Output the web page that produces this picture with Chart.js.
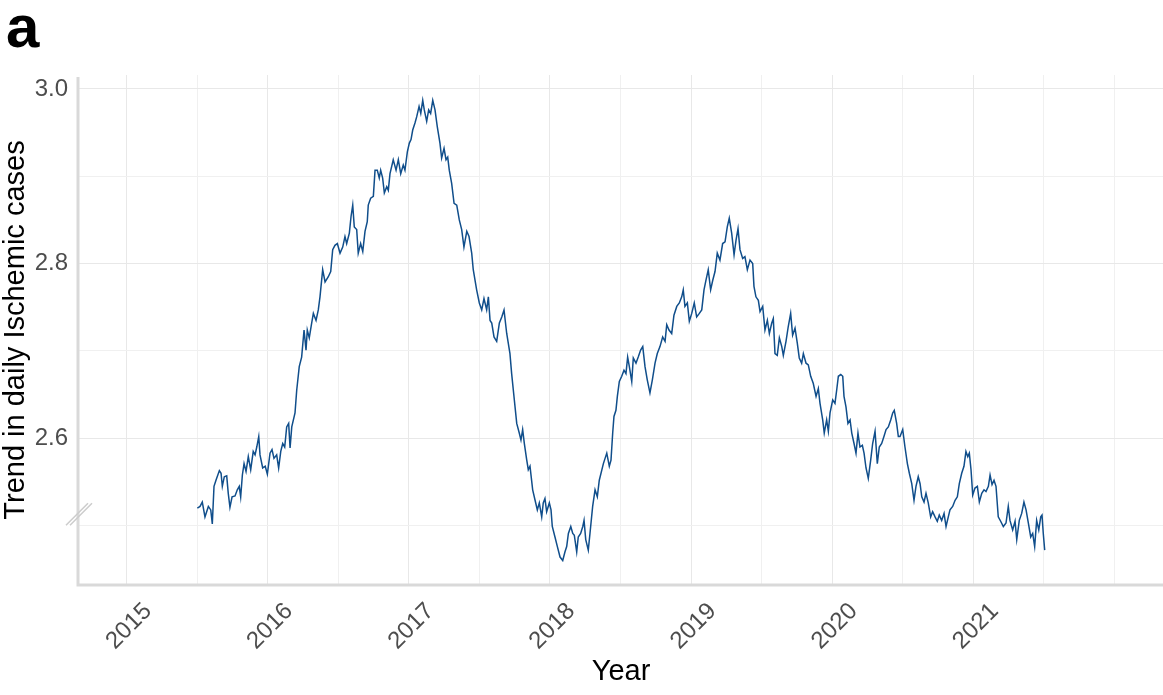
<!DOCTYPE html>
<html lang="en">
<head>
    <meta charset="utf-8" />
    <title>Trend in daily Ischemic cases</title>
    <script src="https://cdn.jsdelivr.net/npm/chart.js"></script>
    <style>
        html, body { margin: 0; padding: 0; background: #fff; }
        #wrap { width: 1163px; height: 695px; }
    </style>
</head>
<body>
    <div id="wrap"><canvas id="trendChart" width="1163" height="695"></canvas></div>

    <script>
        // decimal year of each reading
        const years = [
            2015.502, 2015.521, 2015.537, 2015.556, 2015.580, 2015.597, 2015.608, 2015.620, 2015.634, 2015.658,
            2015.670, 2015.679, 2015.693, 2015.710, 2015.721, 2015.733, 2015.748, 2015.769, 2015.785, 2015.799,
            2015.809, 2015.821, 2015.833, 2015.847, 2015.863, 2015.880, 2015.898, 2015.911, 2015.923, 2015.937,
            2015.946, 2015.965, 2015.983, 2015.998, 2016.017, 2016.031, 2016.045, 2016.064, 2016.078, 2016.093,
            2016.107, 2016.121, 2016.135, 2016.149, 2016.159, 2016.171, 2016.194, 2016.206, 2016.224, 2016.241,
            2016.258, 2016.272, 2016.281, 2016.295, 2016.312, 2016.324, 2016.343, 2016.359, 2016.371, 2016.390,
            2016.407, 2016.430, 2016.447, 2016.461, 2016.477, 2016.494, 2016.513, 2016.532, 2016.548, 2016.560,
            2016.579, 2016.591, 2016.603, 2016.614, 2016.631, 2016.642, 2016.659, 2016.674, 2016.690, 2016.706,
            2016.713, 2016.730, 2016.749, 2016.761, 2016.777, 2016.791, 2016.801, 2016.815, 2016.827, 2016.844,
            2016.855, 2016.867, 2016.890, 2016.910, 2016.926, 2016.943, 2016.961, 2016.973, 2016.990, 2017.004,
            2017.016, 2017.028, 2017.044, 2017.056, 2017.073, 2017.085, 2017.099, 2017.110, 2017.127, 2017.141,
            2017.155, 2017.170, 2017.186, 2017.202, 2017.221, 2017.233, 2017.250, 2017.264, 2017.276, 2017.287,
            2017.304, 2017.321, 2017.340, 2017.358, 2017.375, 2017.391, 2017.411, 2017.427, 2017.446, 2017.457,
            2017.481, 2017.500, 2017.517, 2017.533, 2017.552, 2017.564, 2017.576, 2017.588, 2017.604, 2017.623,
            2017.642, 2017.659, 2017.675, 2017.694, 2017.717, 2017.729, 2017.741, 2017.765, 2017.783, 2017.795,
            2017.807, 2017.819, 2017.836, 2017.847, 2017.859, 2017.878, 2017.895, 2017.911, 2017.925, 2017.942,
            2017.953, 2017.965, 2017.977, 2017.996, 2018.008, 2018.017, 2018.036, 2018.053, 2018.072, 2018.091,
            2018.107, 2018.119, 2018.131, 2018.148, 2018.162, 2018.173, 2018.190, 2018.201, 2018.218, 2018.233,
            2018.242, 2018.254, 2018.272, 2018.284, 2018.303, 2018.320, 2018.336, 2018.350, 2018.379, 2018.403,
            2018.421, 2018.433, 2018.445, 2018.454, 2018.468, 2018.478, 2018.492, 2018.509, 2018.525, 2018.539,
            2018.551, 2018.563, 2018.580, 2018.591, 2018.610, 2018.626, 2018.643, 2018.658, 2018.674, 2018.690,
            2018.709, 2018.726, 2018.745, 2018.761, 2018.780, 2018.799, 2018.816, 2018.828, 2018.844, 2018.863,
            2018.879, 2018.899, 2018.917, 2018.934, 2018.945, 2018.957, 2018.974, 2018.988, 2019.005, 2019.023,
            2019.040, 2019.059, 2019.076, 2019.092, 2019.106, 2019.122, 2019.139, 2019.154, 2019.170, 2019.186,
            2019.205, 2019.224, 2019.241, 2019.257, 2019.271, 2019.288, 2019.305, 2019.319, 2019.333, 2019.347,
            2019.366, 2019.382, 2019.399, 2019.418, 2019.437, 2019.446, 2019.460, 2019.477, 2019.489, 2019.508,
            2019.524, 2019.541, 2019.555, 2019.572, 2019.583, 2019.595, 2019.611, 2019.626, 2019.643, 2019.654,
            2019.673, 2019.689, 2019.706, 2019.720, 2019.737, 2019.753, 2019.767, 2019.784, 2019.796, 2019.815,
            2019.831, 2019.848, 2019.866, 2019.886, 2019.902, 2019.914, 2019.933, 2019.944, 2019.961, 2019.973,
            2019.985, 2020.004, 2020.020, 2020.032, 2020.044, 2020.061, 2020.075, 2020.084, 2020.098, 2020.112,
            2020.127, 2020.139, 2020.155, 2020.169, 2020.183, 2020.197, 2020.214, 2020.226, 2020.240, 2020.256,
            2020.273, 2020.287, 2020.304, 2020.320, 2020.334, 2020.351, 2020.367, 2020.382, 2020.398, 2020.415,
            2020.429, 2020.440, 2020.457, 2020.469, 2020.481, 2020.500, 2020.516, 2020.533, 2020.547, 2020.564,
            2020.580, 2020.594, 2020.610, 2020.623, 2020.635, 2020.651, 2020.665, 2020.681, 2020.698, 2020.712,
            2020.729, 2020.745, 2020.759, 2020.776, 2020.793, 2020.807, 2020.823, 2020.835, 2020.854, 2020.871,
            2020.887, 2020.901, 2020.918, 2020.934, 2020.948, 2020.961, 2020.972, 2020.984, 2020.996, 2021.012,
            2021.029, 2021.043, 2021.060, 2021.076, 2021.090, 2021.107, 2021.119, 2021.133, 2021.147, 2021.161,
            2021.177, 2021.194, 2021.213, 2021.232, 2021.248, 2021.260, 2021.279, 2021.296, 2021.308, 2021.326,
            2021.343, 2021.359, 2021.374, 2021.390, 2021.407, 2021.421, 2021.435, 2021.449, 2021.464, 2021.478,
            2021.487, 2021.496, 2021.506
        ];

        // trend in daily ischemic cases
        const trend = [
            2.520, 2.522, 2.527, 2.510, 2.522, 2.518, 2.502, 2.545, 2.552, 2.563,
            2.560, 2.545, 2.556, 2.557, 2.537, 2.521, 2.533, 2.534, 2.541, 2.545,
            2.533, 2.558, 2.571, 2.562, 2.579, 2.564, 2.585, 2.581, 2.590, 2.602,
            2.581, 2.566, 2.568, 2.559, 2.583, 2.587, 2.577, 2.581, 2.566, 2.585,
            2.594, 2.590, 2.613, 2.617, 2.589, 2.613, 2.629, 2.655, 2.682, 2.693,
            2.724, 2.701, 2.724, 2.715, 2.732, 2.743, 2.735, 2.747, 2.762, 2.793,
            2.779, 2.785, 2.791, 2.816, 2.821, 2.823, 2.812, 2.819, 2.831, 2.823,
            2.835, 2.854, 2.867, 2.842, 2.839, 2.812, 2.823, 2.814, 2.837, 2.848,
            2.867, 2.875, 2.877, 2.907, 2.907, 2.898, 2.907, 2.898, 2.881, 2.888,
            2.884, 2.903, 2.919, 2.907, 2.919, 2.903, 2.913, 2.907, 2.928, 2.938,
            2.942, 2.953, 2.961, 2.968, 2.980, 2.972, 2.987, 2.976, 2.963, 2.976,
            2.972, 2.987, 2.976, 2.957, 2.938, 2.921, 2.932, 2.919, 2.922, 2.907,
            2.892, 2.869, 2.867, 2.850, 2.839, 2.819, 2.837, 2.831, 2.812, 2.793,
            2.770, 2.755, 2.747, 2.760, 2.747, 2.762, 2.735, 2.732, 2.716, 2.711,
            2.732, 2.739, 2.747, 2.720, 2.697, 2.674, 2.655, 2.617, 2.606, 2.598,
            2.610, 2.594, 2.575, 2.564, 2.568, 2.541, 2.529, 2.518, 2.526, 2.510,
            2.526, 2.531, 2.516, 2.526, 2.518, 2.499, 2.487, 2.476, 2.464, 2.460,
            2.470, 2.476, 2.491, 2.499, 2.491, 2.489, 2.470, 2.487, 2.491, 2.499,
            2.506, 2.484, 2.472, 2.491, 2.522, 2.541, 2.533, 2.552, 2.571, 2.583,
            2.568, 2.575, 2.606, 2.625, 2.632, 2.648, 2.665, 2.671, 2.678, 2.674,
            2.693, 2.682, 2.665, 2.692, 2.686, 2.693, 2.701, 2.705, 2.682, 2.667,
            2.652, 2.667, 2.686, 2.697, 2.705, 2.716, 2.711, 2.730, 2.724, 2.720,
            2.741, 2.751, 2.755, 2.762, 2.770, 2.751, 2.755, 2.734, 2.743, 2.755,
            2.739, 2.743, 2.747, 2.770, 2.781, 2.793, 2.770, 2.781, 2.791, 2.812,
            2.804, 2.823, 2.825, 2.842, 2.852, 2.835, 2.810, 2.827, 2.840, 2.816,
            2.806, 2.808, 2.793, 2.804, 2.800, 2.774, 2.762, 2.758, 2.745, 2.751,
            2.724, 2.735, 2.720, 2.732, 2.737, 2.697, 2.695, 2.715, 2.705, 2.695,
            2.711, 2.728, 2.743, 2.718, 2.726, 2.709, 2.692, 2.686, 2.697, 2.686,
            2.684, 2.671, 2.663, 2.648, 2.657, 2.640, 2.621, 2.606, 2.621, 2.608,
            2.629, 2.644, 2.640, 2.655, 2.671, 2.673, 2.671, 2.648, 2.636, 2.617,
            2.621, 2.606, 2.594, 2.583, 2.606, 2.590, 2.592, 2.583, 2.566, 2.554,
            2.575, 2.594, 2.608, 2.571, 2.590, 2.594, 2.602, 2.610, 2.613, 2.621,
            2.629, 2.632, 2.617, 2.602, 2.602, 2.610, 2.590, 2.571, 2.560, 2.548,
            2.529, 2.545, 2.556, 2.548, 2.533, 2.527, 2.537, 2.526, 2.510, 2.516,
            2.510, 2.505, 2.512, 2.506, 2.514, 2.499, 2.510, 2.518, 2.522, 2.529,
            2.533, 2.548, 2.560, 2.568, 2.585, 2.579, 2.583, 2.564, 2.535, 2.543,
            2.545, 2.527, 2.537, 2.541, 2.539, 2.545, 2.558, 2.547, 2.552, 2.545,
            2.510, 2.505, 2.499, 2.503, 2.522, 2.506, 2.495, 2.505, 2.484, 2.506,
            2.514, 2.527, 2.518, 2.503, 2.487, 2.491, 2.476, 2.506, 2.495, 2.510,
            2.512, 2.491, 2.472
        ];

        const yearLabels = [2015, 2016, 2017, 2018, 2019, 2020, 2021];
        const xGrid = [2015, 2015.5, 2016, 2016.5, 2017, 2017.5, 2018, 2018.5, 2019, 2019.5,
                       2020, 2020.5, 2021, 2021.5, 2022];
        const yLabels = [2.6, 2.8, 3.0];
        const yGrid = [2.5, 2.6, 2.7, 2.8, 2.9, 3.0];

        const FONT = '"Liberation Sans", Arial, Helvetica, sans-serif';
        const breakAt = 2.513;

        const isMajor = (v, list) => list.some(l => Math.abs(l - v) < 1e-6);

        // axis lines, axis break, rotated year labels, titles and panel tag
        const decor = {
            id: 'decor',
            afterDraw(chart) {
                const { ctx, chartArea: a, scales: { x, y } } = chart;
                ctx.save();

                ctx.strokeStyle = '#d9d9d9';
                ctx.lineWidth = 3;
                ctx.beginPath();
                ctx.moveTo(a.left - 1, a.top + 2);
                ctx.lineTo(a.left - 1, a.bottom);
                ctx.moveTo(a.left - 2.5, a.bottom);
                ctx.lineTo(a.right, a.bottom);
                ctx.stroke();

                // "//" break on the y axis
                const by = y.getPixelForValue(breakAt);
                ctx.strokeStyle = '#cccccc';
                ctx.lineWidth = 1.5;
                ctx.beginPath();
                [-2, 2].forEach(off => {
                    ctx.moveTo(a.left - 11 + off, by + 11);
                    ctx.lineTo(a.left + 11 + off, by - 11);
                });
                ctx.stroke();

                ctx.fillStyle = '#4d4d4d';
                ctx.font = '24px ' + FONT;
                yearLabels.forEach(v => {
                    const px = x.getPixelForValue(v);
                    ctx.save();
                    ctx.translate(px + 13, a.bottom + 14);
                    ctx.rotate(-Math.PI / 4);
                    ctx.textAlign = 'right';
                    ctx.textBaseline = 'top';
                    ctx.fillText(String(v), 0, 0);
                    ctx.restore();
                });

                ctx.fillStyle = '#000';
                ctx.font = '29px ' + FONT;
                ctx.textAlign = 'center';
                ctx.textBaseline = 'alphabetic';
                ctx.fillText('Year', (a.left + a.right) / 2, 680);

                ctx.save();
                ctx.translate(24, (a.top + a.bottom) / 2);
                ctx.rotate(-Math.PI / 2);
                ctx.fillText('Trend in daily Ischemic cases', 0, 0);
                ctx.restore();

                ctx.font = 'bold 60px ' + FONT;
                ctx.textAlign = 'left';
                ctx.fillText('a', 6, 47);

                ctx.restore();
            }
        };

        new Chart(document.getElementById('trendChart'), {
            type: 'line',
            data: {
                datasets: [{
                    data: years.map((yr, i) => ({ x: yr, y: trend[i] })),
                    borderColor: '#104E8B',
                    borderWidth: 1.5,
                    pointRadius: 0,
                    tension: 0,
                    fill: false
                }]
            },
            options: {
                responsive: false,
                animation: false,
                devicePixelRatio: 1,
                layout: { padding: { top: 75, right: 0, bottom: 0, left: 0 } },
                plugins: { legend: { display: false }, tooltip: { enabled: false } },
                scales: {
                    x: {
                        type: 'linear',
                        min: 2014.6634,
                        max: 2022.3443,
                        afterBuildTicks: s => { s.ticks = xGrid.map(v => ({ value: v })); },
                        afterFit: s => { s.height = 110; },
                        border: { display: false },
                        grid: {
                            drawTicks: false,
                            color: c => isMajor(c.tick.value, yearLabels) ? '#e8e8e8' : '#f0f0f0',
                            lineWidth: 1
                        },
                        ticks: { display: false }
                    },
                    y: {
                        min: 2.432,
                        max: 3.016,
                        afterBuildTicks: s => { s.ticks = yGrid.map(v => ({ value: v })); },
                        afterFit: s => { s.width = 79; },
                        border: { display: false },
                        grid: {
                            drawTicks: false,
                            color: c => isMajor(c.tick.value, yLabels) ? '#e8e8e8' : '#f0f0f0',
                            lineWidth: 1
                        },
                        ticks: {
                            padding: 11,
                            color: '#4d4d4d',
                            font: { family: FONT, size: 24 },
                            callback: v => isMajor(v, yLabels) ? v.toFixed(1) : ''
                        }
                    }
                }
            },
            plugins: [decor]
        });
    </script>
</body>
</html>
